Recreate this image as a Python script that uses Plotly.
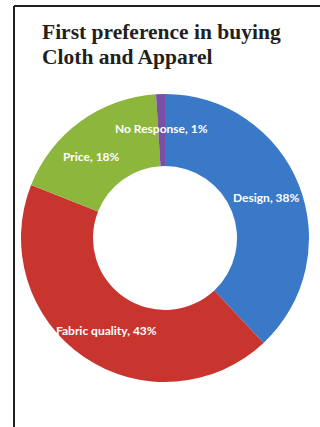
import math
import plotly.graph_objects as go

# Survey answers, clockwise from 12 o'clock
categories = ["Design", "Fabric quality", "Price", "No Response"]
shares = [38, 43, 18, 1]
colors = ["#3A78C8", "#C8352F", "#8CB63C", "#7B4FA5"]
title_lines = ["First preference in buying", "Cloth and Apparel"]

W, H = 320, 427
# Ring geometry in pixels
cx, cy, r_out = 165, 238, 144
hole = 0.5

dom_x = [(cx - r_out) / W, (cx + r_out) / W]
dom_y = [1 - (cy + r_out) / H, 1 - (cy - r_out) / H]

fig = go.Figure(
    go.Pie(
        labels=categories,
        values=shares,
        sort=False,
        direction="clockwise",
        rotation=0,
        hole=hole,
        marker=dict(colors=colors, line=dict(width=0)),
        textinfo="none",
        hoverinfo="label+percent",
        showlegend=False,
        domain=dict(x=dom_x, y=dom_y),
    )
)

# Slice labels placed at the middle of the ring along each slice's mid-angle
label_radius = 0.76 * r_out
angle_nudge = [0, -2, -6, 0]
total = sum(shares)
cum = 0
annotations = []
for name, val, nudge in zip(categories, shares, angle_nudge):
    mid = (cum + val / 2) / total * 360 + nudge
    cum += val
    t = math.radians(mid)
    px = cx + label_radius * math.sin(t)
    py = cy - label_radius * math.cos(t)
    annotations.append(
        dict(
            x=px / W, y=1 - py / H, xref="paper", yref="paper",
            text=f"{name}, {round(val / total * 100)}%",
            showarrow=False, xanchor="center", yanchor="middle",
            font=dict(family="Lato", size=12, color="white", weight="bold"),
        )
    )

# Two-line title with tight line spacing
for i, line in enumerate(title_lines):
    annotations.append(
        dict(
            x=40 / W, y=1 - (32 + 25 * i) / H, xref="paper", yref="paper",
            text=f"<b>{line}</b>",
            showarrow=False, xanchor="left", yanchor="middle", align="left",
            font=dict(family="Liberation Serif", size=21.5, color="#231f20"),
        )
    )

# Open frame: top and left edges
shapes = [
    dict(type="line", xref="paper", yref="paper",
         x0=14 / W, x1=1, y0=1 - 6 / H, y1=1 - 6 / H,
         line=dict(color="#231f20", width=2)),
    dict(type="line", xref="paper", yref="paper",
         x0=14 / W, x1=14 / W, y0=1 - 6 / H, y1=0,
         line=dict(color="#231f20", width=2)),
]

fig.update_layout(
    width=W, height=H,
    margin=dict(l=0, r=0, t=0, b=0),
    paper_bgcolor="white", plot_bgcolor="white",
    annotations=annotations,
    shapes=shapes,
)

fig.write_html("out.html")
